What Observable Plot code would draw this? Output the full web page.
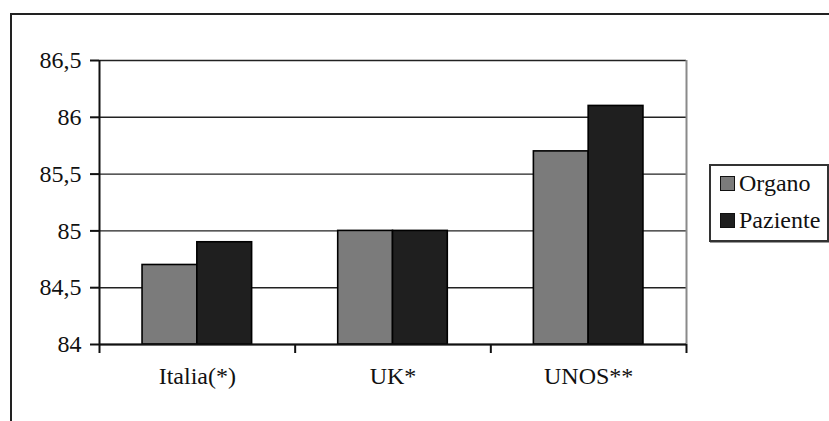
<!DOCTYPE html>
<html>
<head>
<meta charset="utf-8">
<script src="https://cdn.jsdelivr.net/npm/d3@7"></script>
<script src="https://cdn.jsdelivr.net/npm/@observablehq/plot@0.6"></script>
<style>
  html, body { margin: 0; padding: 0; background: #fff; }
  #wrap { position: relative; width: 829px; height: 421px; overflow: hidden; }
  #outer { position: absolute; left: 10px; top: 13px; width: 840px; height: 440px; border-left: 2px solid #222; border-top: 2px solid #222; }
  #chart { position: absolute; left: 0; top: 0; }
  #legend { position: absolute; left: 709px; top: 164px; width: 116px; height: 74px; border: 2px solid #333; box-shadow: 1px 1px 0 #999; background: #fff; font-size: 24px; color: #111; font-family: "Liberation Serif"; }
  #legend .item { position: absolute; left: 9px; display: flex; align-items: center; white-space: nowrap; }
  #legend .sw { display: inline-block; width: 13px; height: 13px; border: 1.5px solid #111; margin-right: 4px; }
</style>
</head>
<body>
<div id="wrap">
  <div id="outer"></div>
  <div id="chart"></div>
  <div id="legend"></div>
</div>
<script>
const categories = ["Italia(*)", "UK*", "UNOS**"];
const series = ["Organo", "Paziente"];
const organo = [84.7, 85.0, 85.7];
const paziente = [84.9, 85.0, 86.1];
const yTicks = [84, 84.5, 85, 85.5, 86, 86.5];
const yTickLabels = ["84", "84,5", "85", "85,5", "86", "86,5"];
const seriesColors = ["#7b7b7b", "#1f1f1f"];

const values = [organo, paziente];
const data = categories.flatMap((cat, i) =>
  series.map((s, j) => ({cat, i, j, series: s, value: values[j][i]}))
);

// group layout (fraction of a category slot)
const gap = 0.22, barW = 0.28;
const yMin = yTicks[0], yMax = yTicks[yTicks.length - 1];

const chart = Plot.plot({
  width: 829,
  height: 421,
  marginLeft: 99,
  marginRight: 143,
  marginTop: 60,
  marginBottom: 77,
  style: {fontSize: "24px", color: "#111", background: "transparent"},
  x: {domain: [0, categories.length], axis: null},
  y: {domain: [yMin, yMax], axis: null},
  color: {domain: series, range: seriesColors},
  marks: [
    Plot.ruleY(yTicks, {stroke: "#222", strokeWidth: 1.4}),
    Plot.ruleX([categories.length], {stroke: "#8a8a8a", strokeWidth: 2}),
    Plot.rectY(data, {
      x1: d => d.i + gap + d.j * barW,
      x2: d => d.i + gap + (d.j + 1) * barW,
      y1: () => yMin,
      y2: "value",
      fill: "series",
      stroke: "#000",
      strokeWidth: 1.6
    }),
    Plot.ruleX([0], {stroke: "#111", strokeWidth: 2}),
    Plot.ruleY([yMin], {stroke: "#111", strokeWidth: 2}),
    Plot.axisY({
      ticks: yTicks,
      tickFormat: d => yTickLabels[yTicks.indexOf(d)],
      tickSize: 9,
      tickPadding: 9,
      strokeWidth: 2,
      fill: "#111",
      fontFamily: "Liberation Serif",
      label: null
    }),
    Plot.axisX({
      ticks: d3.range(categories.length + 1),
      tickFormat: () => "",
      tickSize: 9,
      strokeWidth: 2,
      label: null
    }),
    Plot.axisX({
      ticks: categories.map((_, i) => i + 0.5),
      tickFormat: d => categories[Math.floor(d)],
      tickSize: 0,
      tickPadding: 22,
      fill: "#111",
      fontFamily: "Liberation Serif",
      label: null
    })
  ]
});
document.getElementById("chart").appendChild(chart);

const legend = document.getElementById("legend");
series.forEach((s, j) => {
  const item = document.createElement("div");
  item.className = "item";
  item.style.top = (4 + j * 37) + "px";
  const sw = document.createElement("span");
  sw.className = "sw";
  sw.style.background = seriesColors[j];
  item.appendChild(sw);
  item.appendChild(document.createTextNode(s));
  legend.appendChild(item);
});
</script>
</body>
</html>
